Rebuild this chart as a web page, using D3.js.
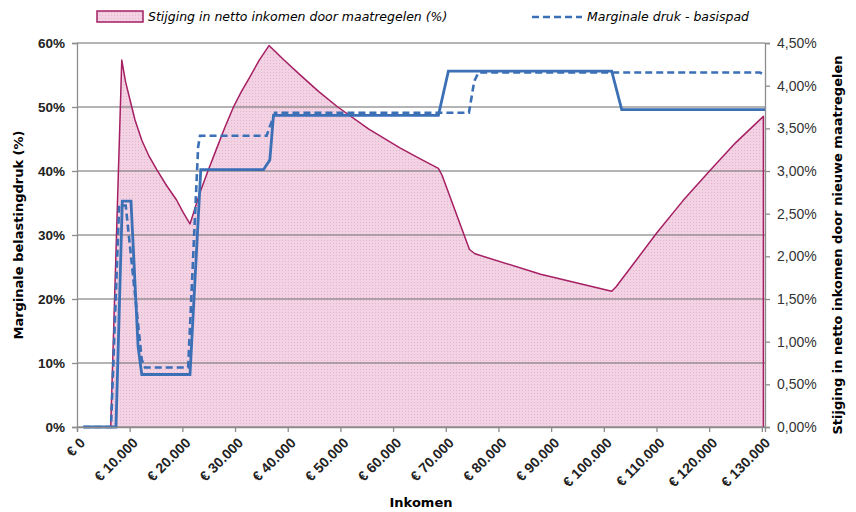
<!DOCTYPE html>
<html>
<head>
<meta charset="utf-8">
<script src="https://cdn.jsdelivr.net/npm/d3@7"></script>
<style>
  body { margin: 0; background: #fff; }
  svg { display: block; font-family: "DejaVu Sans", Verdana, sans-serif; }
</style>
</head>
<body>
<div id="chart"></div>
<script>
    // stijging netto inkomen (rechter as, %)
    var netInkomen = [1200, 6400, 8500, 9200, 10000, 11000, 12300, 13700, 15200, 17000, 18900, 20200, 21450,
      23300, 24800, 26300, 28000, 29700, 31200, 32800, 34600, 36450,
      39300, 42300, 45900, 49500, 55400, 61300, 64900, 68600, 69300, 74500, 75550, 88000,
      101500, 102300, 105000, 110000, 115000, 120200, 125000, 130300, 130300];
    var netStijging = [0, 0, 4.30, 4.05, 3.85, 3.60, 3.36, 3.17, 3.01, 2.83, 2.66, 2.51, 2.38,
      2.74, 2.99, 3.23, 3.50, 3.75, 3.93, 4.10, 4.30, 4.47,
      4.30, 4.13, 3.93, 3.75, 3.49, 3.27, 3.15, 3.03, 2.95, 2.08, 2.03, 1.79,
      1.59, 1.64, 1.86, 2.27, 2.65, 3.01, 3.33, 3.64, 0];

    // marginale druk na maatregelen (doorgetrokken lijn, linker as)
    var nieuwInkomen = [1200, 7400, 8600, 10250, 11600, 12300, 21450, 23500, 35400, 36600, 37300, 68600, 70500, 101500, 103400, 130600];
    var nieuwDruk = [0, 0, 35.3, 35.3, 12.5, 8.2, 8.2, 40.2, 40.2, 41.7, 48.7, 48.7, 55.6, 55.6, 49.6, 49.6];

    // marginale druk - basispad (stippellijn)
    var basisInkomen = [1200, 6450, 8000, 9250, 12300, 12900, 21100, 23000, 23350, 36000, 36400, 37600, 74400, 75400, 76200, 129600, 130600];
    var basisDruk = [0, 0, 34.6, 34.6, 10.5, 9.3, 9.3, 43.8, 45.5, 45.5, 46.5, 49.1, 49.1, 54.0, 55.4, 55.4, 55.0];

    var xTicks = d3.range(0, 130001, 10000);
    var leftTicks = d3.range(0, 61, 10);
    var rightTicks = d3.range(0, 4.51, 0.5);

    var W = 856, H = 512;
    var pLeft = 77, pRight = 765, pTop = 43, pBottom = 427;

    var svg = d3.select("#chart").append("svg").attr("width", W).attr("height", H);

    var x = d3.scaleLinear().domain([0, 130600]).range([pLeft, pRight]);
    var yL = d3.scaleLinear().domain([0, 60]).range([pBottom, pTop]);
    var yR = d3.scaleLinear().domain([0, 4.5]).range([pBottom, pTop]);

    // dot pattern for the pink area
    var pat = svg.append("defs").append("pattern")
      .attr("id", "dots").attr("width", 3).attr("height", 3)
      .attr("patternUnits", "userSpaceOnUse");
    pat.append("rect").attr("width", 3).attr("height", 3).style("fill", "#f3d2e4");
    pat.append("rect").attr("width", 1).attr("height", 1).style("fill", "#e2b6cd");

    var net = netInkomen.map(function(d, i) { return [d, netStijging[i]]; });

    svg.append("path").datum(net)
      .attr("d", d3.area().x(function(d) { return x(d[0]); }).y0(pBottom).y1(function(d) { return yR(d[1]); }))
      .style("fill", "url(#dots)");

    // gridlines
    svg.selectAll(".grid").data(leftTicks).enter().append("line")
      .attr("x1", pLeft).attr("x2", pRight)
      .attr("y1", function(d) { return yL(d); }).attr("y2", function(d) { return yL(d); })
      .style("stroke", "#7a7a7a").style("stroke-opacity", 0.75).style("stroke-width", 1.3);

    svg.append("path").datum(net)
      .attr("d", d3.line().x(function(d) { return x(d[0]); }).y(function(d) { return yR(d[1]); }))
      .style("fill", "none").style("stroke", "#a51f62").style("stroke-width", 1.5)
      .style("stroke-linejoin", "round");

    var lineL = d3.line().x(function(d) { return x(d[0]); }).y(function(d) { return yL(d[1]); });

    svg.append("path").datum(basisInkomen.map(function(d, i) { return [d, basisDruk[i]]; }))
      .attr("d", lineL)
      .style("fill", "none").style("stroke", "#3b6fb6").style("stroke-width", 2.6)
      .style("stroke-dasharray", "7,4");

    svg.append("path").datum(nieuwInkomen.map(function(d, i) { return [d, nieuwDruk[i]]; }))
      .attr("d", lineL)
      .style("fill", "none").style("stroke", "#3b6fb6").style("stroke-width", 2.8);

    // axes
    var euro = function(d) { return "€ " + d3.format(",")(d).replace(/,/g, "."); };

    var gx = svg.append("g").attr("transform", "translate(0," + pBottom + ")")
      .call(d3.axisBottom(x).tickValues(xTicks).tickSize(5).tickFormat(euro));
    gx.selectAll("text")
      .style("font-size", "14px").style("font-weight", "bold").style("fill", "#222")
      .attr("text-anchor", "end")
      .attr("transform", "translate(3,7) rotate(-45)")
      .attr("dy", "0.35em").attr("y", 6).attr("x", -3);

    var gl = svg.append("g").attr("transform", "translate(" + pLeft + ",0)")
      .call(d3.axisLeft(yL).tickValues(leftTicks).tickSize(5).tickPadding(7).tickFormat(function(d) { return d + "%"; }));
    gl.selectAll("text").style("font-size", "13.5px").style("font-weight", "bold").style("fill", "#222");

    var gr = svg.append("g").attr("transform", "translate(" + pRight + ",0)")
      .call(d3.axisRight(yR).tickValues(rightTicks).tickSize(5).tickPadding(7)
        .tickFormat(function(d) { return d.toFixed(2).replace(".", ",") + "%"; }));
    gr.selectAll("text").style("font-size", "14px").style("fill", "#333");

    svg.selectAll(".domain, .tick line").style("stroke", "#8c8c8c").style("stroke-width", 1.3);

    // titles
    svg.append("text").attr("x", 421).attr("y", 507)
      .style("text-anchor", "middle").style("font-size", "13px").style("font-weight", "bold")
      .text("Inkomen");

    svg.append("text").attr("transform", "translate(23,235) rotate(-90)")
      .style("text-anchor", "middle").style("font-size", "13px").style("font-weight", "bold")
      .text("Marginale belastingdruk (%)");

    svg.append("text").attr("transform", "translate(842,245) rotate(-90)")
      .style("text-anchor", "middle").style("font-size", "13px").style("font-weight", "bold")
      .text("Stijging in netto inkomen door nieuwe maatregelen");

    // legend
    var lg = svg.append("g").style("font-size", "12.5px").style("font-style", "italic");
    lg.append("rect").attr("x", 97).attr("y", 11).attr("width", 46).attr("height", 11)
      .style("fill", "url(#dots)").style("stroke", "#a51f62").style("stroke-width", 1.5);
    lg.append("text").attr("x", 148).attr("y", 21).text("Stijging in netto inkomen door maatregelen (%)");
    lg.append("line").attr("x1", 532).attr("x2", 582).attr("y1", 17).attr("y2", 17)
      .style("stroke", "#3b6fb6").style("stroke-width", 2.6).style("stroke-dasharray", "7,4");
    lg.append("text").attr("x", 587).attr("y", 21).text("Marginale druk - basispad");
</script>
</body>
</html>
